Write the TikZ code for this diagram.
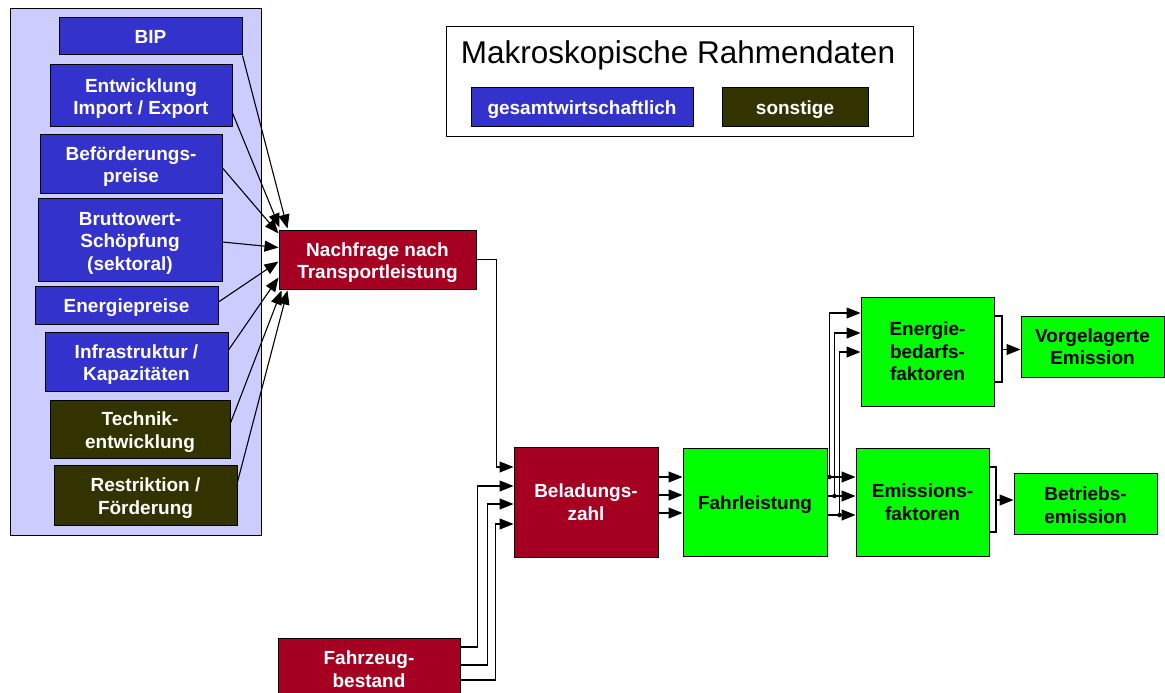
\documentclass[tikz,border=0pt]{standalone}
\usepackage{fontspec}
\setmainfont{Liberation Sans}
\usetikzlibrary{arrows.meta}
\definecolor{cblue}{HTML}{3333CC}
\definecolor{colive}{HTML}{333300}
\definecolor{cred}{HTML}{A50021}
\definecolor{cgreen}{HTML}{00FF00}
\definecolor{cpanel}{HTML}{CCCCFF}
\newcommand{\dn}{\rule{0pt}{20pt}}
\tikzset{
  box/.style={draw=black, line width=1pt, align=center, inner sep=0pt,
    font=\fontsize{19}{22.5}\selectfont\bfseries},
  bluebox/.style={box, fill=cblue, text=white},
  olivebox/.style={box, fill=colive, text=white},
  redbox/.style={box, fill=cred, text=white},
  greenbox/.style={box, fill=cgreen, text=black},
  arr/.style={line width=1.1pt, -{Triangle[length=14pt,width=11pt]}},
  ln/.style={line width=1.1pt},
  jdot/.style={circle, fill=black, inner sep=0pt, minimum size=4.5pt},
}
\begin{document}
\begin{tikzpicture}[x=1pt,y=-1pt]
\useasboundingbox (0,0) rectangle (1165,693);
% left panel
\draw[fill=cpanel, line width=1pt] (10,9) rectangle (261,535);
% left boxes
\node[bluebox, minimum width=183, minimum height=37] (bip) at (150.5,36.5) {BIP};
\node[bluebox, minimum width=182, minimum height=61] (ent) at (141,95.5) {\dn Entwicklung\\Import / Export};
\node[bluebox, minimum width=182, minimum height=59] (bef) at (131,163.5) {\dn Beförderungs-\\preise};
\node[bluebox, minimum width=184, minimum height=83] (bru) at (130,239.5) {\dn Bruttowert-\\Schöpfung\\(sektoral)};
\node[bluebox, minimum width=183, minimum height=38] (enp) at (126.5,305) {\dn Energiepreise};
\node[bluebox, minimum width=183, minimum height=59] (inf) at (136.5,361.5) {\dn Infrastruktur /\\Kapazitäten};
\node[olivebox, minimum width=180, minimum height=58] (tec) at (140,429) {\dn Technik-\\entwicklung};
\node[olivebox, minimum width=183, minimum height=60] (res) at (145.5,495) {\dn Restriktion /\\Förderung};
% legend
\node[draw=black, line width=1pt, minimum width=467, minimum height=109, inner sep=0pt] (leg) at (679.5,81.5) {};
\node[font=\fontsize{31.5}{36}\selectfont, inner sep=0pt] (legt) at (678,55) {Makroskopische Rahmendaten};
\node[bluebox, minimum width=222, minimum height=38] (lg1) at (582,107) {\dn gesamtwirtschaftlich};
\node[olivebox, minimum width=146, minimum height=38] (lg2) at (795,107) {\dn\raisebox{1.5pt}{sonstige}};
% main chain
\node[redbox, minimum width=197, minimum height=59] (nach) at (377.5,259.5) {\dn Nachfrage nach\\Transportleistung};
\node[redbox, minimum width=144, minimum height=110] (bel) at (586,502) {Beladungs-\\zahl};
\node[redbox, minimum width=182, minimum height=62] (fzb) at (369,669) {Fahrzeug-\\bestand};
\node[greenbox, minimum width=144, minimum height=108] (fl) at (755,502) {\dn Fahrleistung};
\node[greenbox, minimum width=133, minimum height=109] (ebf) at (927.5,351.5) {Energie-\\bedarfs-\\faktoren};
\node[greenbox, minimum width=133, minimum height=108] (emf) at (922.5,502) {Emissions-\\faktoren};
\node[greenbox, minimum width=143, minimum height=61] (vor) at (1092.5,346.5) {Vorgelagerte\\Emission};
\node[greenbox, minimum width=143, minimum height=61] (bet) at (1085.5,503.5) {\rule{0pt}{17pt}Betriebs-\\emission};
% left connectors
\draw[arr] (bip.south east) -- ([xshift=9pt,yshift=1pt]nach.north west);
\draw[arr] ([yshift=-17.5pt]ent.east) -- ([xshift=1pt,yshift=2pt]nach.north west);
\draw[arr] ([yshift=-4.5pt]bef.east) -- ([yshift=-4pt]nach.north west);
\draw[arr] ([yshift=-2.5pt]bru.east) -- ([yshift=-18pt]nach.north west);
\draw[arr] ([yshift=3pt]enp.east) -- ([yshift=-32pt]nach.north west);
\draw[arr] ([yshift=11.5pt]inf.east) -- ([yshift=12pt]nach.south west);
\draw[arr] ([yshift=6pt]tec.east) -- ([xshift=3pt,yshift=-1pt]nach.south west);
\draw[arr] ([yshift=13pt]res.east) -- ([xshift=9pt,yshift=-1pt]nach.south west);
% Nachfrage -> Beladung
\draw[arr] (nach.east) -- ++(20,0) |- ([yshift=35pt]bel.west);
% Fahrzeugbestand -> Beladung
\draw[arr] ([yshift=22pt]fzb.east) -- ++(17,0) |- ([yshift=16pt]bel.west);
\draw[arr] ([yshift=4pt]fzb.east) -- ++(27,0) |- ([yshift=-2pt]bel.west);
\draw[arr] ([yshift=-11pt]fzb.east) -- ++(35,0) |- ([yshift=-22pt]bel.west);
% Beladung -> Fahrleistung
\draw[arr] ([yshift=25pt]bel.east) -- ([yshift=25pt]fl.west);
\draw[arr] ([yshift=7pt]bel.east) -- ([yshift=7pt]fl.west);
\draw[arr] ([yshift=-11pt]bel.east) -- ([yshift=-11pt]fl.west);
% Fahrleistung -> Emissionsfaktoren
\draw[arr] ([yshift=25pt]fl.east) -- ([yshift=25pt]emf.west);
\draw[arr] ([yshift=6pt]fl.east) -- ([yshift=6pt]emf.west);
\draw[arr] ([yshift=-13pt]fl.east) -- ([yshift=-13pt]emf.west);
% Fahrleistung -> Energiebedarfsfaktoren
\coordinate (j1) at ([xshift=2pt,yshift=25pt]fl.east);
\coordinate (j2) at ([xshift=7pt,yshift=6pt]fl.east);
\coordinate (j3) at ([xshift=12pt,yshift=-13pt]fl.east);
\draw[arr] (j1) |- ([yshift=38.5pt]ebf.west);
\draw[arr] (j2) |- ([yshift=18.5pt]ebf.west);
\draw[arr] (j3) |- ([yshift=-0.5pt]ebf.west);
\node[jdot] at (j1) {};
\node[jdot] at (j2) {};
\node[jdot] at (j3) {};
% brackets
\coordinate (vb) at (1002,349.5);
\draw[ln] ([yshift=35.5pt]ebf.east) -| (vb) |- ([yshift=-30.5pt]ebf.east);
\draw[arr] (vb) -- (vb -| vor.west);
\coordinate (bb) at (996,500);
\draw[ln] ([yshift=35pt]emf.east) -| (bb) |- ([yshift=-30pt]emf.east);
\draw[arr] (bb) -- (bb -| bet.west);
\end{tikzpicture}
\end{document}
